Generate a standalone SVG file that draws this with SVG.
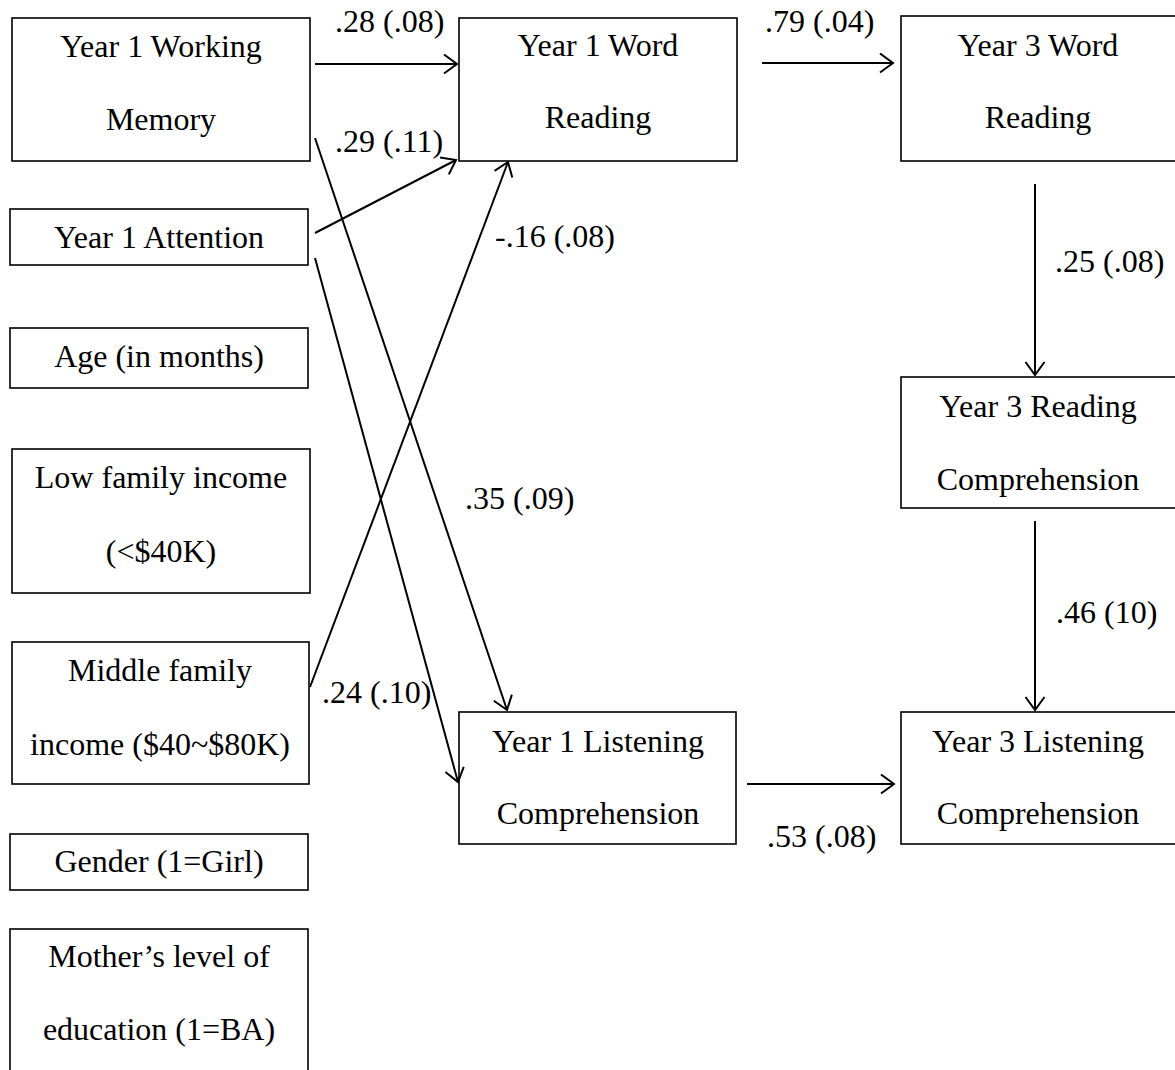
<svg xmlns="http://www.w3.org/2000/svg" width="1175" height="1070" viewBox="0 0 1175 1070">
<style>
.box{fill:#fff;stroke:#000;stroke-width:1.6}
.t{font-family:"Liberation Serif","Times New Roman",serif;font-size:32px;fill:#000;text-anchor:middle}
.l{font-family:"Liberation Serif","Times New Roman",serif;font-size:32px;fill:#000;text-anchor:start}
.c{stroke:#000;stroke-width:2;fill:none;marker-end:url(#ah)}
</style>
<defs>
<marker id="ah" markerUnits="userSpaceOnUse" markerWidth="16" markerHeight="22" viewBox="-1 -1 16 22" refX="13" refY="9.5" orient="auto">
<path d="M0,0 L13,9.5 L0,19" fill="none" stroke="#000" stroke-width="2"/>
</marker>
</defs>
<rect width="1175" height="1070" fill="#fff"/>
<g id="wm"><rect class="box" x="12" y="18" width="298" height="143"/><text class="t" x="161" y="57">Year 1 Working</text><text class="t" x="161" y="130">Memory</text></g>
<g id="att"><rect class="box" x="10" y="209" width="298" height="56"/><text class="t" x="159" y="248">Year 1 Attention</text></g>
<g id="age"><rect class="box" x="10" y="328" width="298" height="60"/><text class="t" x="159" y="367">Age (in months)</text></g>
<g id="low"><rect class="box" x="12" y="449" width="298" height="144"/><text class="t" x="161" y="488">Low family income</text><text class="t" x="161" y="562">(&lt;$40K)</text></g>
<g id="mid"><rect class="box" x="12" y="642" width="297" height="142"/><text class="t" x="160" y="681">Middle family</text><text class="t" x="160" y="755">income ($40~$80K)</text></g>
<g id="gender"><rect class="box" x="10" y="834" width="298" height="56"/><text class="t" x="159" y="872">Gender (1=Girl)</text></g>
<g id="mother"><rect class="box" x="10" y="929" width="298" height="145"/><text class="t" x="159" y="967">Mother’s level of</text><text class="t" x="159" y="1040">education (1=BA)</text></g>
<g id="y1wr"><rect class="box" x="459" y="18" width="278" height="143"/><text class="t" x="598" y="56">Year 1 Word</text><text class="t" x="598" y="128">Reading</text></g>
<g id="y3wr"><rect class="box" x="901" y="16" width="280" height="145"/><text class="t" x="1038" y="56">Year 3 Word</text><text class="t" x="1038" y="128">Reading</text></g>
<g id="y3rc"><rect class="box" x="901" y="377" width="280" height="131"/><text class="t" x="1038" y="417">Year 3 Reading</text><text class="t" x="1038" y="490">Comprehension</text></g>
<g id="y1lc"><rect class="box" x="459" y="712" width="277" height="132"/><text class="t" x="598" y="752">Year 1 Listening</text><text class="t" x="598" y="824">Comprehension</text></g>
<g id="y3lc"><rect class="box" x="901" y="712" width="280" height="132"/><text class="t" x="1038" y="752">Year 3 Listening</text><text class="t" x="1038" y="824">Comprehension</text></g>
<g id="connectors">
<line class="c" x1="315" y1="64" x2="457" y2="64"/>
<line class="c" x1="315" y1="233" x2="456" y2="160"/>
<line class="c" x1="315" y1="138" x2="507" y2="710"/>
<line class="c" x1="315" y1="258" x2="458" y2="782"/>
<line class="c" x1="310" y1="687" x2="508" y2="162"/>
<line class="c" x1="762" y1="63" x2="893" y2="63"/>
<line class="c" x1="1035" y1="184" x2="1035" y2="375"/>
<line class="c" x1="1035" y1="521" x2="1035" y2="710"/>
<line class="c" x1="747" y1="784" x2="894" y2="784"/>
</g>
<g id="labels">
<text class="l" x="335" y="32">.28 (.08)</text>
<text class="l" x="335" y="152">.29 (.11)</text>
<text class="l" x="495" y="247">-.16 (.08)</text>
<text class="l" x="765" y="32">.79 (.04)</text>
<text class="l" x="1055" y="272">.25 (.08)</text>
<text class="l" x="465" y="509">.35 (.09)</text>
<text class="l" x="1056" y="623">.46 (10)</text>
<text class="l" x="322" y="703">.24 (.10)</text>
<text class="l" x="767" y="847">.53 (.08)</text>
</g>
</svg>
